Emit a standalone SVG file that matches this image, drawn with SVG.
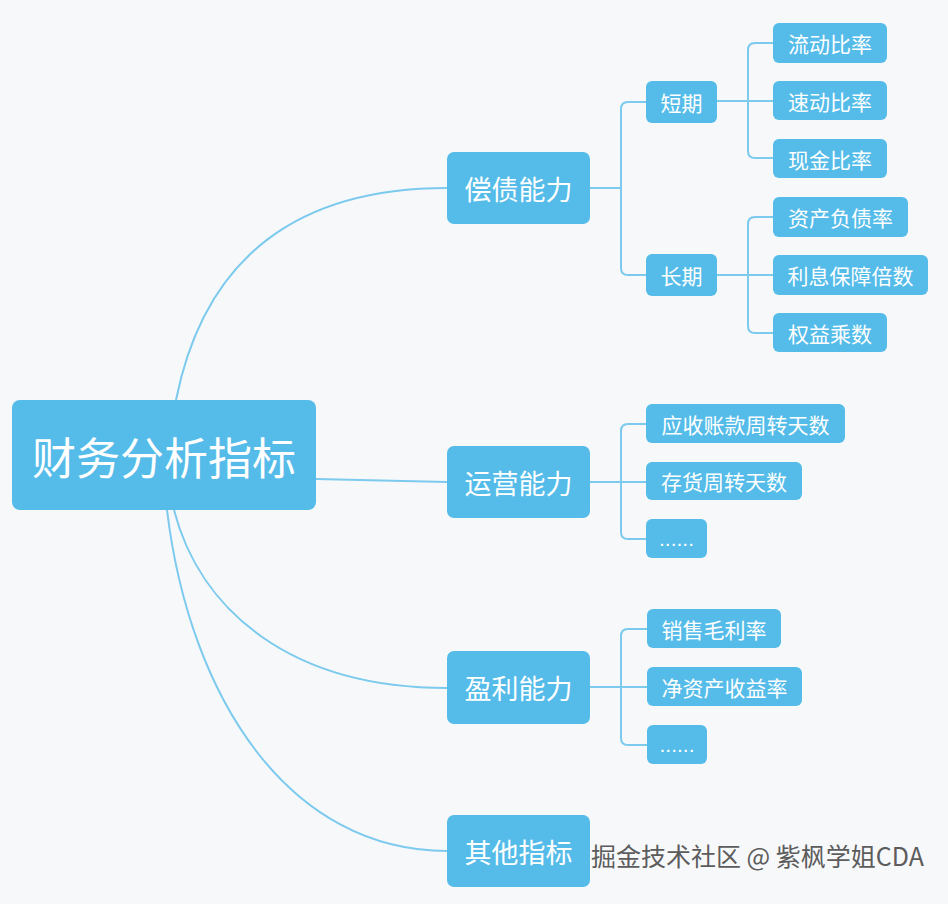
<svg xmlns="http://www.w3.org/2000/svg" width="948" height="904" viewBox="0 0 948 904">
<style>
.bx{fill:#55bce9;}
.t{fill:#ffffff;font-family:"Noto Sans CJK SC","Noto Sans",sans-serif;text-anchor:middle;dominant-baseline:central;}
.t0{font-size:44px;}
.t1{font-size:27px;}
.t2{font-size:21px;}
.ln{fill:none;stroke:#7ccaee;stroke-width:2;}
.wm{fill:#5c5c5c;font-family:"Noto Sans CJK SC","Noto Sans",sans-serif;font-size:25px;}
</style>
<rect x="0" y="0" width="948" height="904" fill="#f7f8fa"/>
<g id="connectors">
<path class="ln" d="M176,400 C205,255 300,188 447,188"/>
<path class="ln" d="M316,479 L447,482"/>
<path class="ln" d="M174,510 C200,610 290,688 447,688"/>
<path class="ln" d="M167,510 C190,700 290,851 447,851"/>
<path class="ln" d="M590,188 H621"/>
<path class="ln" d="M646,102 H628 Q621,102 621,109 V268 Q621,275 628,275 H646"/>
<path class="ln" d="M717,101 H773"/>
<path class="ln" d="M773,43 H755 Q748,43 748,50 V151 Q748,158 755,158 H773"/>
<path class="ln" d="M717,275 H773"/>
<path class="ln" d="M773,217 H755 Q748,217 748,224 V326 Q748,333 755,333 H773"/>
<path class="ln" d="M590,482 H646"/>
<path class="ln" d="M646,424 H628 Q621,424 621,431 V532 Q621,539 628,539 H646"/>
<path class="ln" d="M590,687 H647"/>
<path class="ln" d="M647,629 H628 Q621,629 621,636 V738 Q621,745 628,745 H647"/>
</g>
<g id="root"><rect class="bx" x="12" y="400" width="304" height="110" rx="8"/><text class="t t0" x="164" y="456">财务分析指标</text></g>
<g id="n-changzhai"><rect class="bx" x="447" y="152" width="143" height="72" rx="7"/><text class="t t1" x="518.5" y="188">偿债能力</text></g>
<g id="n-yunying"><rect class="bx" x="447" y="446" width="143" height="72" rx="7"/><text class="t t1" x="518.5" y="482">运营能力</text></g>
<g id="n-yingli"><rect class="bx" x="447" y="651" width="143" height="73" rx="7"/><text class="t t1" x="518.5" y="687.5">盈利能力</text></g>
<g id="n-qita"><rect class="bx" x="447" y="815" width="143" height="72" rx="7"/><text class="t t1" x="518.5" y="851">其他指标</text></g>
<g id="n-duanqi"><rect class="bx" x="646" y="81" width="71" height="42" rx="6"/><text class="t t2" x="681.5" y="102">短期</text></g>
<g id="n-changqi"><rect class="bx" x="646" y="254" width="71" height="42" rx="6"/><text class="t t2" x="681.5" y="275">长期</text></g>
<g id="n-liudong"><rect class="bx" x="773" y="23" width="114" height="40" rx="6"/><text class="t t2" x="830" y="43">流动比率</text></g>
<g id="n-sudong"><rect class="bx" x="773" y="81" width="114" height="39" rx="6"/><text class="t t2" x="830" y="100.5">速动比率</text></g>
<g id="n-xianjin"><rect class="bx" x="773" y="139" width="114" height="39" rx="6"/><text class="t t2" x="830" y="158.5">现金比率</text></g>
<g id="n-zichan"><rect class="bx" x="773" y="197" width="135" height="40" rx="6"/><text class="t t2" x="840.5" y="217">资产负债率</text></g>
<g id="n-lixi"><rect class="bx" x="773" y="255" width="155" height="40" rx="6"/><text class="t t2" x="850.5" y="275">利息保障倍数</text></g>
<g id="n-quanyi"><rect class="bx" x="773" y="313" width="114" height="39" rx="6"/><text class="t t2" x="830" y="332.5">权益乘数</text></g>
<g id="n-yingshou"><rect class="bx" x="646" y="404" width="199" height="39" rx="6"/><text class="t t2" x="745.5" y="423.5">应收账款周转天数</text></g>
<g id="n-cunhuo"><rect class="bx" x="646" y="462" width="156" height="38" rx="6"/><text class="t t2" x="724" y="481">存货周转天数</text></g>
<g id="n-more1"><rect class="bx" x="646" y="519" width="61" height="39" rx="6"/><text class="t t2" x="676.5" y="538.5" style="font-family:'Liberation Sans',sans-serif">......</text></g>
<g id="n-xiaoshou"><rect class="bx" x="647" y="609" width="134" height="39" rx="6"/><text class="t t2" x="714" y="628.5">销售毛利率</text></g>
<g id="n-jingzichan"><rect class="bx" x="647" y="667" width="155" height="39" rx="6"/><text class="t t2" x="724.5" y="686.5">净资产收益率</text></g>
<g id="n-more2"><rect class="bx" x="647" y="725" width="60" height="39" rx="6"/><text class="t t2" x="677" y="744.5" style="font-family:'Liberation Sans',sans-serif">......</text></g>
<text class="wm" x="591" y="866">掘金技术社区 @ 紫枫学姐CDA</text>
</svg>
